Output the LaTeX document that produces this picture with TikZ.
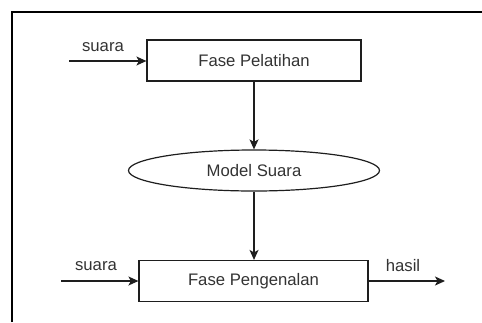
\documentclass[tikz,border=0pt]{standalone}
\usepackage{fontspec}
\setmainfont{Liberation Sans}
\usetikzlibrary{
    arrows.meta,
    positioning,
    shapes.geometric
}
\definecolor{lineblack}{RGB}{30,30,30}
\definecolor{textgray}{RGB}{51,51,51}
\tikzset{
    % Box styles
    phase box/.style={
        draw=lineblack,
        line width=1.2pt,
        rectangle,
        minimum height=41pt,
        align=center,
        text=textgray,
        font=\fontsize{16.7}{20}\selectfont
    },
    model ellipse/.style={
        draw=lineblack,
        line width=1.2pt,
        ellipse,
        minimum width=251pt,
        minimum height=41pt,
        inner sep=0pt,
        text=textgray,
        font=\fontsize{16.7}{20}\selectfont
    },
    % Label style
    flow label/.style={
        text=textgray,
        font=\fontsize{16.7}{20}\selectfont
    },
    % Arrow styles
    flow arrow/.style={
        -{Stealth[length=10pt,width=9pt,inset=2.5pt]},
        line width=1.2pt,
        lineblack
    }
}

\begin{document}
\begin{tikzpicture}[x=1pt, y=-1pt]
        \useasboundingbox (0,0) rectangle (482,322);

        % window frame
        \draw[line width=1.3pt, black] (12,322) -- (12,12) -- (482,12);

        \node[phase box, minimum width=214pt] (pelatihan) at (254,60.5) {Fase Pelatihan};
        \node[model ellipse] (model) at (254,170.5) {Model Suara};
        \node[phase box, minimum width=229pt] (pengenalan) at (253.5,281) {Fase Pengenalan};

        \coordinate (in1) at (69,61);
        \coordinate (in2) at (61,281);
        \coordinate (out) at (445,281);

        \node[flow label] (suara1) at (103,47) {suara};
        \node[flow label] (suara2) at (96,266) {suara};
        \node[flow label] (hasil) at (403,266) {hasil};

        \draw[flow arrow] (in1) -- (pelatihan.west |- in1);
        \draw[flow arrow] (pelatihan.south -| model.north) -- (model.north);
        \draw[flow arrow] (model.south) -- (pengenalan.north -| model.south);
        \draw[flow arrow] (in2) -- (pengenalan.west);
        \draw[flow arrow] (pengenalan.east) -- (out);
    \end{tikzpicture}
\end{document}
